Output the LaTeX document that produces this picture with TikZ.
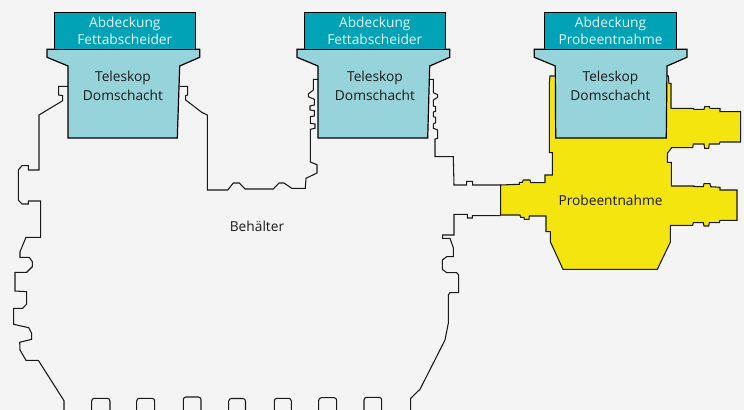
\documentclass[tikz,border=0pt]{standalone}
\usepackage{fontspec}
\setmainfont{Open Sans}
\definecolor{bggrey}{HTML}{F4F4F4}
\definecolor{covercol}{HTML}{00A3B5}
\definecolor{shaftcol}{HTML}{97D3DB}
\definecolor{samplecol}{HTML}{F5E50F}
\definecolor{covertext}{HTML}{E3F5F7}
\definecolor{darktext}{HTML}{1A1A1A}
\tikzset{
    x=0.75pt,
    y=-0.75pt,
    outline/.style = {
        draw=black!90,
        line width=0.8pt,
        line join=miter
    },
    tooth/.style = {
        outline,
        rounded corners=2pt
    },
    cover/.style = {
        draw=black,
        fill=covercol,
        line width=0.9pt,
        text=covertext,
        shape=rectangle,
        align=center,
        inner sep=0pt,
        minimum height=27.4pt,
        font=\fontsize{10.3pt}{13.2pt}\selectfont
    },
    shaft/.style = {
        draw=black,
        fill=shaftcol,
        line width=0.9pt
    },
    label/.style = {
        text=darktext,
        align=center,
        inner sep=0pt,
        font=\fontsize{10.3pt}{14.2pt}\selectfont
    },
}
\begin{document}
\begin{tikzpicture}
                \useasboundingbox[fill=bggrey] (0,0) rectangle (744,410);

                % tank wall
                \path[outline] (68,86.3) -- (58.7,86.3) -- (58.7,95) -- (62.7,95.7) -- (62.7,100.7) -- (39,115) -- (39,170) -- (28.3,170) -- (28.3,165.7) -- (22,165.7) -- (18.3,170) -- (18.3,200) -- (22,204) -- (28.3,204) -- (28.3,201) -- (40.7,201) -- (40.7,237.3) -- (26,237.3) -- (20,251.7) -- (20,257.3) -- (29.3,257.3) -- (32.3,261.7) -- (32.3,266.7) -- (26.7,272.3) -- (15,272.3) -- (15,291) -- (26.7,291.7) -- (26.7,304) -- (22.7,308.3) -- (13.7,308.3) -- (13.7,324.3) -- (28.7,327.7) -- (31.7,333.3) -- (31.7,339.3) -- (19.7,342.3) -- (20,350) -- (26,360.3) -- (38.3,360.3) -- (64,400.7) -- (64,410);
                \path[outline] (179.7,86.3) -- (187.7,86.3) -- (187.7,95) -- (185.7,95.7) -- (185.7,100) -- (201.7,112.3) -- (207.3,115) -- (207.3,190) -- (227.7,190) -- (233.3,183) -- (239.3,183) -- (245,189) -- (273.3,189) -- (279,183) -- (284,183) -- (291.7,188.3) -- (305.3,188.3) -- (306,178.3) -- (317,173) -- (317,164.7) -- (310.3,162) -- (310.3,129.3) -- (315,128.3) -- (315,124) -- (310.3,123.3) -- (310.3,116.7) -- (314.3,116) -- (314.3,110.7) -- (310,110) -- (310,106) -- (314.3,105) -- (314.3,99.3) -- (308.3,96.7) -- (308.3,94) -- (313.3,90) -- (313.3,79.3) -- (318,79.3);
                \path[outline] (430,79.3) -- (433.3,79.3) -- (433.3,92.7) -- (437.7,94.7) -- (437.7,97.3) -- (433.3,100) -- (433.3,106) -- (435.7,106.7) -- (435.7,111.3) -- (433.3,112) -- (433.3,116.7) -- (435.7,117.3) -- (435.7,122.7) -- (433.3,124) -- (433.3,128.3) -- (437.7,130) -- (437.7,138.3) -- (435,139) -- (435,156.7) -- (453.3,156.7) -- (454,185) -- (466.7,185) -- (466.7,181.3) -- (472.7,181.3) -- (472.7,185) -- (500.7,185);
                \path[outline] (500.7,215.7) -- (472.3,215.7) -- (472.3,218) -- (467.3,218) -- (467.3,214.3) -- (454,214.3) -- (454,235) -- (442.7,235) -- (442.7,238.3) -- (450,238.3) -- (453.3,247.7) -- (453.3,256.7) -- (446.7,256.7) -- (442.3,260) -- (442.3,269.3) -- (446.7,272.7) -- (456.7,272.7) -- (458.7,275) -- (458.7,292.7) -- (450,292.7) -- (448.3,295) -- (448.3,323.3) -- (445,340) -- (420,389.3) -- (410.7,398.3) -- (410.7,410);

                % tank feet
                \path[tooth] (91.7,410) -- (91.7,398.3) -- (110,398.3) -- (110,410);
                \path[tooth] (136.7,410) -- (136.7,398.3) -- (154.7,398.3) -- (154.7,410);
                \path[tooth] (183.3,410) -- (183.3,397) -- (201,397) -- (201,410);
                \path[tooth] (228.7,410) -- (228.7,398.5) -- (245.5,398.5) -- (245.5,410);
                \path[tooth] (274.3,410) -- (274.3,398.3) -- (291.3,398.3) -- (291.3,410);
                \path[tooth] (318.7,410) -- (318.7,397.7) -- (336.7,397.7) -- (336.7,410);
                \path[tooth] (364,410) -- (364,397.3) -- (381.7,397.3) -- (381.7,410);

                % sampling housing
                \path[outline, fill=samplecol] (550,76) -- (549.3,83.3) -- (549.3,152.7) -- (552.3,152.7) -- (552.3,175) -- (545,175) -- (545,182.7) -- (530.7,182.7) -- (530,180) -- (523.3,180) -- (522.3,182.3) -- (519.3,182.3) -- (519.3,184.3) -- (500.7,185) -- (500.7,215) -- (520,215) -- (520.7,217.3) -- (524,217.3) -- (524.3,219.3) -- (529,219.3) -- (529.3,216) -- (546,216) -- (546,231.7) -- (550.3,231.7) -- (550.3,241.7) -- (563,269.3) -- (657.3,269.3) -- (670.3,242.3) -- (670.3,225.3) -- (692.7,225.3) -- (693.3,222.7) -- (703.3,222.7) -- (704,226) -- (708.7,226) -- (709.3,222.7) -- (719.3,222.7) -- (720,220.3) -- (737,220.3) -- (737,190) -- (720,190) -- (720,187.3) -- (710.7,186.7) -- (710,183.7) -- (704,183.7) -- (703.3,186.7) -- (694,186.7) -- (694,186) -- (671.3,186) -- (671.3,162.3) -- (667.3,162.3) -- (667.3,153.3) -- (671.3,148.3) -- (671.3,147.7) -- (692.7,147.7) -- (693.3,144) -- (704,144) -- (704.7,148.3) -- (708.7,148.3) -- (709.3,144) -- (719.3,144) -- (720,142) -- (740.7,142) -- (740.7,111.7) -- (720,111.7) -- (720,108.3) -- (710,108.3) -- (709.3,106.7) -- (704.7,106.7) -- (704,109.3) -- (694,109.3) -- (693.3,108.3) -- (671,108.3) -- (671,83.3) -- (669,83.3) -- (668.3,76) -- cycle;

                % telescopic shafts
                \path[shaft] (47,49.3) -- (199.7,49.3) -- (199.7,57.3) -- (179.7,66) -- (177.3,138) -- (68,138) -- (68,66) -- (47,57.3) -- cycle;
                \path[shaft] (297,49.3) -- (449.7,49.3) -- (449.7,57.3) -- (429.7,66) -- (427.7,138) -- (318,138) -- (318,66) -- (297,57.3) -- cycle;
                \path[shaft] (534.3,49.3) -- (687,49.3) -- (687,57.3) -- (667,66) -- (666.3,138) -- (555.7,138) -- (555.3,66) -- (534.3,57.3) -- cycle;

                \node[cover, minimum width=105.8pt] (cover1) at (124.8,31) {\raisebox{-0.8pt}{Abdeckung}\\\raisebox{-0.8pt}{Fettabscheider}};
                \node[cover, minimum width=105.8pt] (cover2) at (374.8,31) {\raisebox{-0.4pt}{Abdeckung}\\\raisebox{-0.4pt}{Fettabscheider}};
                \node[cover, minimum width=99.3pt] (cover3) at (610.5,31) {\raisebox{-0.4pt}{Abdeckung}\\\raisebox{-0.4pt}{Probeentnahme}};

                \node[label] (shaft1) at (123,85.8) {Teleskop\\Domschacht};
                \node[label] (shaft2) at (375,85.8) {Teleskop\\Domschacht};
                \node[label] (shaft3) at (610.5,85.8) {Teleskop\\Domschacht};

                \node[label] (tank) at (257,226) {Behälter};
                \node[label] (sampling) at (610.5,200) {Probeentnahme};
            \end{tikzpicture}
\end{document}
